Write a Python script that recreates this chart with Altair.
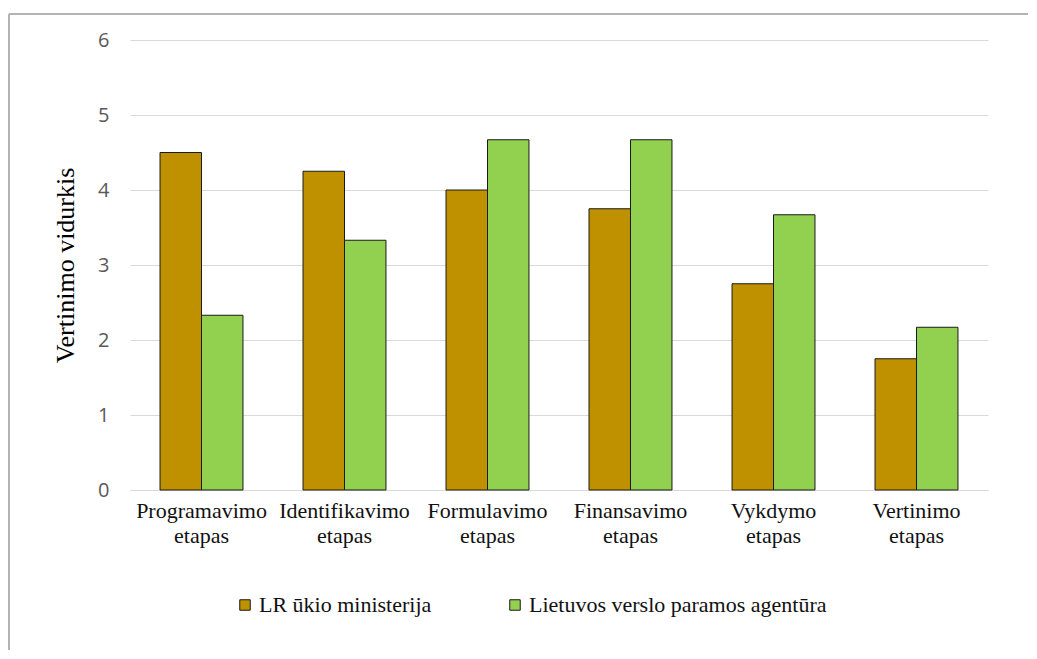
import altair as alt
import pandas as pd

categories = ["Programavimo etapas", "Identifikavimo etapas", "Formulavimo etapas",
              "Finansavimo etapas", "Vykdymo etapas", "Vertinimo etapas"]
series_names = ["LR ūkio ministerija", "Lietuvos verslo paramos agentūra"]
ministerija = [4.5, 4.25, 4.0, 3.75, 2.75, 1.75]
agentura = [2.33, 3.33, 4.67, 4.67, 3.67, 2.17]
colors = ["#BF9000", "#92D050"]

rows = []
for i, c in enumerate(categories):
    rows.append({"etapas": c, "serija": series_names[0], "vertė": ministerija[i]})
    rows.append({"etapas": c, "serija": series_names[1], "vertė": agentura[i]})
df = pd.DataFrame(rows)

bars = alt.Chart(df).mark_bar(stroke="#1a1a1a", strokeWidth=1).encode(
    x=alt.X("etapas:N", sort=categories, title=None,
            scale=alt.Scale(paddingInner=0.42, paddingOuter=0.21),
            axis=alt.Axis(labelExpr="split(datum.label, ' ')", labelAngle=0,
                          labelFont="Liberation Serif", labelFontSize=22,
                          labelColor="#111111", labelPadding=10, labelLineHeight=25,
                          labelLimit=300,
                          ticks=False, domain=True, domainColor="#d9d9d9",
                          domainWidth=1, grid=False)),
    xOffset=alt.XOffset("serija:N", sort=series_names),
    y=alt.Y("vertė:Q", title="Vertinimo vidurkis",
            scale=alt.Scale(domain=[0, 6], nice=False),
            axis=alt.Axis(values=[0, 1, 2, 3, 4, 5, 6], format="d",
                          labelFont="Open Sans", labelFontSize=20, labelColor="#595959",
                          labelPadding=21, ticks=False, domain=False,
                          gridColor="#d9d9d9", gridWidth=1,
                          titleFont="Liberation Serif", titleFontSize=26,
                          titleFontWeight="normal", titleColor="#000000",
                          titlePadding=19)),
    color=alt.Color("serija:N", sort=series_names,
                    scale=alt.Scale(domain=series_names, range=colors),
                    legend=alt.Legend(title=None, orient="none", direction="horizontal",
                                      legendX=104, legendY=554,
                                      symbolType="square", symbolSize=110,
                                      symbolStrokeColor="#1a1a1a", symbolStrokeWidth=1,
                                      labelFont="Liberation Serif", labelFontSize=22,
                                      labelColor="#111111", columnPadding=72,
                                      labelLimit=500,
                                      labelOffset=3, symbolOffset=0)),
)

frame_top = alt.Chart(df).mark_rule(color="#b3b3b3", strokeWidth=2).encode(
    x=alt.value(-121), x2=alt.value(910), y=alt.value(-26))
frame_left = alt.Chart(df).mark_rule(color="#b3b3b3", strokeWidth=2).encode(
    x=alt.value(-121), y=alt.value(-26), y2=alt.value(620))

chart = alt.layer(frame_top, frame_left, bars).properties(
    width=858, height=450,
    padding={"left": 122, "top": 32, "right": 40, "bottom": 160},
    autosize=alt.AutoSizeParams(type="none"),
    background="white",
).configure_view(strokeWidth=0, stroke="transparent")

chart.save("out.html", embed_options={"renderer": "svg", "actions": False})
